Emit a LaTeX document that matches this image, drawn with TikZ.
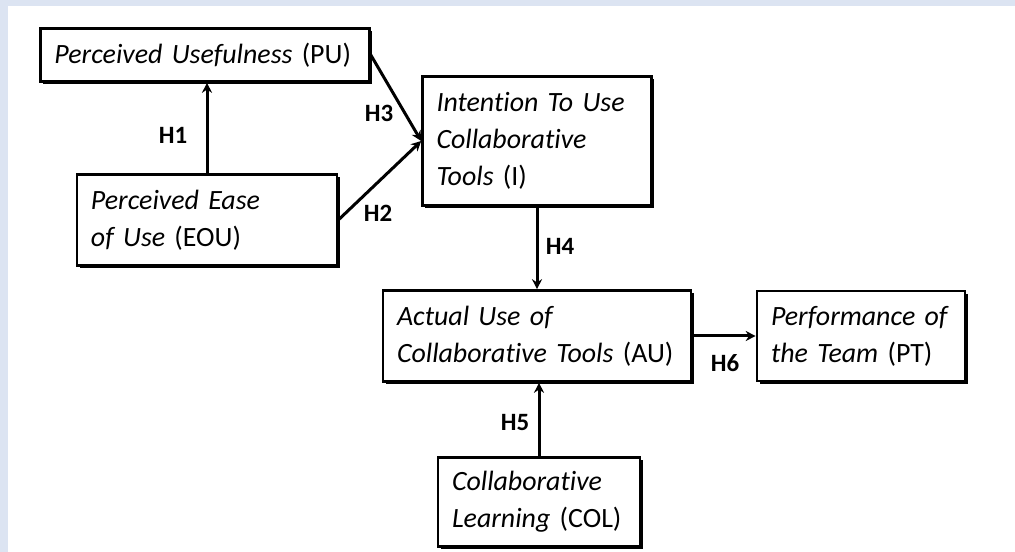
\documentclass[tikz,border=0pt]{standalone}
\usepackage{fontspec}
\setmainfont{Carlito}[Ligatures={NoCommon,NoDiscretionary}]
\usepackage{xcolor}
\usepackage{tikz}
\usetikzlibrary{positioning,arrows.meta,shadows}
\definecolor{pageband}{RGB}{220,228,242}
\tikzset{
  construct/.style={draw, line width=2.6bp, fill=white, align=left, anchor=center,
                    inner xsep=14bp, inner ysep=0pt,
                    font=\fontsize{28}{37}\selectfont\itshape,
                    general shadow={fill=black, shadow xshift=2.6bp, shadow yshift=-2.6bp}},
  hyp/.style={-{Stealth[length=10bp, width=10bp]}, line width=3bp, black},
  hlbl/.style={font=\fontsize{25}{27}\selectfont\bfseries, inner sep=1pt}
}
\begin{document}
\begin{tikzpicture}[x=1bp, y=-1bp]
\useasboundingbox (0,0) rectangle (1015,552);
\fill[pageband] (0,0) rectangle (1015,552);
\fill[white] (8,6) rectangle (1015,552);
% constructs
\node[construct, text width=301bp, minimum height=53bp] (pu) at (205,55) {Perceived Usefulness \textup{(PU)}};
\node[construct, text width=232bp, minimum height=91bp] (eou) at (207,220) {Perceived Ease\\of Use \textup{(EOU)}};
\node[construct, text width=201bp, minimum height=129bp] (ituse) at (537,141) {Intention To Use\\Collaborative\\Tools \textup{(I)}};
\node[construct, text width=280bp, minimum height=91bp] (au) at (537,336) {Actual Use of\\Collaborative Tools \textup{(AU)}};
\node[construct, text width=180bp, minimum height=90bp] (pt) at (861,336) {Performance of\\the Team \textup{(PT)}};
\node[construct, text width=174bp, minimum height=89bp] (col) at (539,502) {Collaborative\\Learning \textup{(COL)}};
% hypotheses
\draw[hyp] (eou.north) -- (eou.north |- pu.south);
\draw[hyp] (eou.east) -- (ituse.west);
\draw[hyp] (pu.east) -- (ituse.west);
\draw[hyp] (ituse.south) -- (ituse.south |- au.north);
\draw[hyp] (col.north) -- (col.north |- au.south);
\draw[hyp] (au.east) -- (pt.west);
\node[hlbl] (h1) at (173,135) {H1};
\node[hlbl] (h2) at (378,213) {H2};
\node[hlbl] (h3) at (379,113) {H3};
\node[hlbl] (h4) at (560,246) {H4};
\node[hlbl] (h5) at (515,423) {H5};
\node[hlbl] (h6) at (725,363) {H6};
\end{tikzpicture}
\end{document}
